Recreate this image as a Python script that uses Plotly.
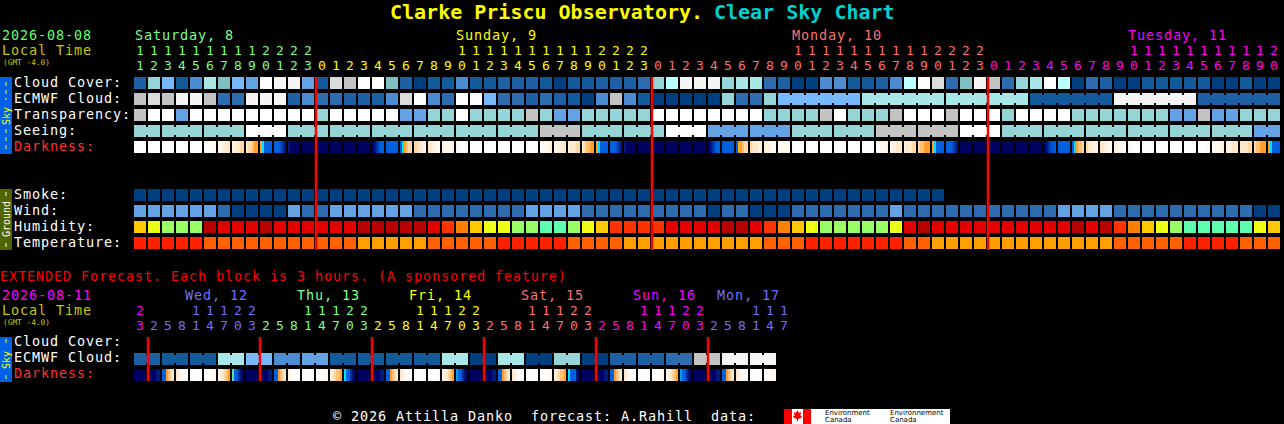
import plotly.graph_objects as go

# ---------- data ----------
HOURS = [11,12,13,14,15,16,17,18,19,20,21,22,23,
         0,1,2,3,4,5,6,7,8,9,10,11,12,13,14,15,16,17,18,19,20,21,22,23,
         0,1,2,3,4,5,6,7,8,9,10,11,12,13,14,15,16,17,18,19,20,21,22,23,
         0,1,2,3,4,5,6,7,8,9,10,11,12,13,14,15,16,17,18,19,20]
EXT_HOURS = [23,2,5,8,11,14,17,20,23,2,5,8,11,14,17,20,23,2,5,8,11,14,17,20,23,
             2,5,8,11,14,17,20,23,2,5,8,11,14,17,20,23,2,5,8,11,14,17]
HOUR_DAY = [0]*13 + [1]*24 + [2]*24 + [3]*21
DAY_COLORS = ["#80ff80", "#ffff00", "#ff7070", "#ff00ff", "#7070ff"]
EXT_COLORS = ["#7070ff", "#80ff80", "#ffff00", "#ff7070", "#ff00ff", "#7070ff"]

CLOUD = ("cigbejhgfwxxfbyzwwhcab" "bebbcccbabbcccd" "ikxxxijjdcaaeeb"
         "bcekwydhxzdijwkadcaabbbbbaabaa")
ECMWF = ("zyzxxzddxxxcedd" "ccceywe" "dwwgddcdcbaezeb" "aaaaaiddigggggg"
         "jjjjjjjjjjjj" "bbbbbb" "xxxxxx" "cccccc")
TRANSP = ("zwwfwwwwwwwwwiwwwwwffi" "iwiiiizi" "ffiiiii" "wwwwwwwwiiiizwi"
          "iizwwwzwwwiwwwwiiiiiiiffzffiii")
SEEING = ("iiiiiiii" "www" "iiiiiiiiiiiiiiiiii" "zzz" "iiiiii" "www" "ffffff"
          "iiiiii" "zzzzzz" "www" "iiiiiiiiiiiiiiiiii" "ff")
SMOKE = "a" * 58
WIND = "ffffffdaaaafddffffffdd" "ddddddffffdddddddddaddaaaddddd" "ddfdddddddddddffffddddddddddaa"
HUMID = "YLGGGDRRRDRRRRRRDDDDDR" "EOYLLGGSSGLYEEEERRRRDDREOYLGGG" "GGLRDRRRRRRRRRRDRDEOYLGSSSSSLY"
TEMP = ("FFFFF" "MMMMMMMMMMM" "NNNNN" "MMMMM" "FFFFF" "MMMM" "NNNNNNNNNN" "MMM"
        "FFFFFFF" "MM" "NNNNNNNNNNNNN" "MMMMM" "FFFF" "MMM")
EXT_ECMWF_BLOCKS = "cbbjgefbbbbjajaiaccdzxx"

DARK = ["000000","000000","000000","000000","000000","000111","112233","223344","344566",
        "68aaaa","aaabcd","deeeee","eeeeee","eeeeee","eeeeee","eeeeee","eeeeee","edcbaa","aaaaaa",
        "a87544","443322","332211",
        "211112","110001","000000","000000","000000","000000","000000",
        "011122","122233","233344","345566","68aaaa","aaabcd","deeeee","eeeeee","eeeeee",
        "eeeeee","eeeeee","eeeeee","edcbaa","aaaaaa","a76544","433322","222111","111111","100000",
        "000000","000000","000000","000000","000000",
        "001112","122333","233344","455666","68aaaa","aaabcd","eeeeee","eeeeee","eeeeee","eeeeee",
        "eeeeee","eeeeee","edcbba","aaaaaa","a86554","433222","332211","221110","110000",
        "000000","000000","000000","000000","000011","111122","222333","333344","455666","68aaaa"]
EXT_DARK = ["eeeeee","eeeedd","aa6543","321100","000000","000011","123456","gaacde",
            "eeeeee","eeeedd","aa6543","210000","000000","000011","234556","8aacde",
            "eeeeee","eeeedd","aa6543","321100","000000","000001","123456","9aacde",
            "eeeeee","eeeedd","aa6543","321000","000000","000011","234556","8aaade",
            "eeeeee","eeeedd","aa6543","321100","000000","000011","123456","9aacde",
            "eeeeee","eeeedd","aa6543","321100","000000","000111"]

PALETTE = {"a":"#003f7f","b":"#135a9a","c":"#1e60a4","d":"#2e6cb0","e":"#4c8cd0","f":"#63a3e3",
           "g":"#77b7fb","h":"#7fbfbf","i":"#95d5d5","j":"#a7e7e7","k":"#bbffff","w":"#ffffff",
           "x":"#f5f5f5","y":"#dcdcdc","z":"#c3c3c3",
           "Y":"#ffc800","L":"#ecff14","G":"#99ff66","S":"#5cffb0","R":"#e40000","D":"#b80000",
           "E":"#ff3300","O":"#ff8000","F":"#ff2000","M":"#ff6000","N":"#ffa000"}
DARK_PALETTE = {"0":"#ffffff","1":"#fff8f0","2":"#fff0e0","3":"#ffe8c8","4":"#ffd8a8","5":"#ffc070",
                "6":"#ffa030","7":"#ffa800","8":"#00e0ff","9":"#00a0f0","a":"#0060e0","b":"#0050d0",
                "c":"#0030a0","d":"#001880","e":"#000060","g":"#60e0a0"}

SKY_LABELS = ["Cloud Cover:", "ECMWF Cloud:", "Transparency:", "Seeing:"]
GROUND_LABELS = ["Smoke:", "Wind:", "Humidity:", "Temperature:"]
DAY_NAMES = ["Saturday, 8", "Sunday, 9", "Monday, 10", "Tuesday, 11"]
EXT_NAMES = ["Wed, 12", "Thu, 13", "Fri, 14", "Sat, 15", "Sun, 16", "Mon, 17"]

# ---------- layout constants ----------
FONT = "DejaVu Sans Mono"
BODY = 13.5
def X(px):
    return (px - 140) / 14

fig = go.Figure()
keys = list(PALETTE)
n = len(keys)
scale = []
for k, key in enumerate(keys):
    scale += [[k / n, PALETTE[key]], [(k + 1) / n, PALETTE[key]]]
dkeys = list(DARK_PALETTE)
dn = len(dkeys)
dscale = []
for k, key in enumerate(dkeys):
    dscale += [[k / dn, DARK_PALETTE[key]], [(k + 1) / dn, DARK_PALETTE[key]]]

def idx(s, count=82):
    vals = [keys.index(c) + 0.5 for c in s]
    return vals + [None] * (count - len(vals))

def heat(rows, ys, count=82):
    fig.add_trace(go.Heatmap(z=[idx(r, count) for r in rows], x=list(range(count)), y=ys,
                             xgap=2, ygap=4, zmin=0, zmax=n, colorscale=scale,
                             showscale=False, hoverinfo="skip"))

def dark_row(cells, top):
    z = []
    for c in cells:
        z += [dkeys.index(ch) + 0.5 for ch in c] + [None]
    edges = [j / 7 - 3 / 7 for j in range(len(z) + 1)]
    fig.add_trace(go.Heatmap(z=[z], x=edges, y=[top, top + 12], zmin=0, zmax=dn,
                             colorscale=dscale, showscale=False, hoverinfo="skip"))

heat([CLOUD, ECMWF, TRANSP, SEEING], [83, 99, 115, 131])
heat([SMOKE, WIND, HUMID, TEMP], [195, 211, 227, 243])
dark_row(DARK, 141)
dark_row(EXT_DARK, 369)

ext_cells = "".join(b * 2 for b in EXT_ECMWF_BLOCKS)
fig.add_trace(go.Heatmap(z=[idx(ext_cells, 46)], x=[i - 0.5 for i in range(47)], y=[353, 365], xgap=2,
                         zmin=0, zmax=n, colorscale=scale, showscale=False, hoverinfo="skip"))

# bridges joining the blocks of one forecast period
def bridge(row, y, first, size, stop=None):
    stop = len(row) if stop is None else stop
    by_color = {}
    s = first
    while s < stop:
        e = min(s + size, stop)
        by_color.setdefault(row[s], []).extend([s, e - 1, None])
        s = e
    for col, xs in by_color.items():
        fig.add_trace(go.Scatter(x=xs, y=[y if v is not None else None for v in xs], mode="lines",
                                 line=dict(color=PALETTE[col], width=8), hoverinfo="skip", showlegend=False))

fig.add_trace(go.Scatter(x=[0, 1, None], y=[131, 131, None], mode="lines",
                         line=dict(color=PALETTE["i"], width=8), hoverinfo="skip", showlegend=False))
bridge(SEEING, 131, 2, 3)
bridge(ECMWF, 99, 46, 6)
bridge(ext_cells, 359, 0, 2)

# midnight lines
main_mid = [X(316) + 24 * k for k in range(3)]
ext_mid = [X(148) + 8 * k for k in range(6)]
lx, ly = [], []
for m in main_mid:
    lx += [m, m, None]; ly += [77, 250, None]
for m in ext_mid:
    lx += [m, m, None]; ly += [337, 381, None]
fig.add_trace(go.Scatter(x=lx, y=ly, mode="lines", line=dict(color="#ff0000", width=2.5),
                         hoverinfo="skip", showlegend=False))

# hour digits
def digits(hours, cols, y_tens, y_units):
    xs, ys, tx, cc = [], [], [], []
    for i, (h, c) in enumerate(zip(hours, cols)):
        if h >= 10:
            xs.append(i); ys.append(y_tens); tx.append(str(h // 10)); cc.append(c)
        xs.append(i); ys.append(y_units); tx.append(str(h % 10)); cc.append(c)
    fig.add_trace(go.Scatter(x=xs, y=ys, text=tx, mode="text", textposition="middle center",
                             textfont=dict(family=FONT, size=13, color=cc), hoverinfo="skip", showlegend=False))

digits(HOURS, [DAY_COLORS[d] for d in HOUR_DAY], 51.5, 66.5)
ext_cols = ["#ff00ff"] + ["#7070ff"] * 8 + ["#80ff80"] * 8 + ["#ffff00"] * 8 + ["#ff7070"] * 8 + ["#ff00ff"] * 8 + ["#7070ff"] * 6
digits(EXT_HOURS, ext_cols, 311.5, 326.5)

ann = []
def T(px, py, text, color="#ffffff", size=BODY, family=FONT, angle=0, anchor="left"):
    if size == BODY:
        text = f'<span style="letter-spacing:0.87px">{text}</span>'
    ann.append(dict(x=X(px), y=py, xref="x", yref="y", text=text, showarrow=False, xanchor=anchor,
                    yanchor="middle", textangle=angle, font=dict(family=family, size=size, color=color),
                    borderpad=0, borderwidth=0))

T(390, 12, "<b>Clarke Priscu Observatory.</b>", "#ffff00", 20)
T(714, 12, "<b>Clear Sky Chart</b>", "#00d0d0", 20)
T(2, 35, "2026-08-08", "#66ff66")
T(2, 50, "Local Time", "#c8c800")
T(3, 62, "(GMT -4.0)", "#c8c800", 7.8)
for name, px, c in zip(DAY_NAMES, [135, 456, 792, 1128], ["#80ff80", "#ffff00", "#ff7070", "#ff00ff"]):
    T(px, 35, name, c)
for lab, y in zip(SKY_LABELS, [82, 98, 114, 130]):
    T(14, y, lab)
T(14, 146, "Darkness:", "#ff3030")
for lab, y in zip(GROUND_LABELS, [194, 210, 226, 242]):
    T(14, y, lab)
T(0, 276, "EXTENDED Forecast. Each block is 3 hours. (A sponsored feature)", "#ff0000")
T(2, 295, "2026-08-11", "#ff00ff")
T(2, 310, "Local Time", "#c8c800")
T(3, 322, "(GMT -4.0)", "#c8c800", 7.8)
for name, px, c in zip(EXT_NAMES, [185, 297, 409, 521, 633, 717], EXT_COLORS):
    T(px, 295, name, c)
T(14, 341, "Cloud Cover:")
T(14, 357, "ECMWF Cloud:")
T(14, 373, "Darkness:", "#ff3030")
T(333, 416, "© 2026 Attilla Danko  forecast: A.Rahill  data:")
T(6, 116, "Sky", "#ffff00", 10, angle=-90, anchor="center")
T(6, 219, "Ground", "#ffffff", 10, angle=-90, anchor="center")
T(6, 360, "Sky", "#ffff00", 10, angle=-90, anchor="center")
T(825, 413, "Environment", "#000000", 7, "DejaVu Sans")
T(825, 420, "Canada", "#000000", 7, "DejaVu Sans")
T(890, 413, "Environnement", "#000000", 7, "DejaVu Sans")
T(890, 420, "Canada", "#000000", 7, "DejaVu Sans")

def rect(x0, x1, y0, y1, color):
    return dict(type="rect", xref="x", yref="y", x0=X(x0), x1=X(x1), y0=y0, y1=y1,
                fillcolor=color, line_width=0, layer="below")
def dash(y0, y1, color):
    return dict(type="line", xref="x", yref="y", x0=X(6), x1=X(6), y0=y0, y1=y1,
                line=dict(color=color, width=1, dash="4px,4px"), layer="above")

shapes = [
    rect(0, 12, 77, 154, "#0060e6"), rect(0, 12, 189, 250, "#506400"), rect(0, 12, 337, 382, "#0060e6"),
    dash(82, 100, "#ffff00"), dash(129, 150, "#ffff00"), dash(192, 197, "#ffffff"),
    dash(243, 248, "#ffffff"), dash(339, 343, "#ffff00"), dash(375, 380, "#ffff00"),
    rect(784, 950, 409, 424, "#ffffff"), rect(784, 792, 409, 424, "#ff0000"),
    rect(803, 811, 409, 424, "#ff0000"),
]
leaf = [(797.5, 410), (799, 413), (801, 412), (800.5, 416), (802, 416), (801, 418), (798, 419), (798, 421),
        (797, 421), (797, 419), (794, 418), (793, 416), (794.5, 416), (794, 412), (796, 413)]
path = "M " + " L ".join(f"{X(a)},{b}" for a, b in leaf) + " Z"
shapes.append(dict(type="path", xref="x", yref="y", path=path, fillcolor="#ff0000", line_width=0))

fig.update_layout(
    width=1284, height=424, margin=dict(l=0, r=0, t=0, b=0, pad=0),
    paper_bgcolor="#000000", plot_bgcolor="#000000", showlegend=False,
    xaxis=dict(range=[X(0), X(1284)], visible=False, fixedrange=True),
    yaxis=dict(range=[424, 0], visible=False, fixedrange=True),
    annotations=ann, shapes=shapes,
)
fig.write_html("out.html", config=dict(displayModeBar=False),
               post_script="document.body.style.margin='0';document.body.style.background='#000';document.body.style.overflow='hidden';")
